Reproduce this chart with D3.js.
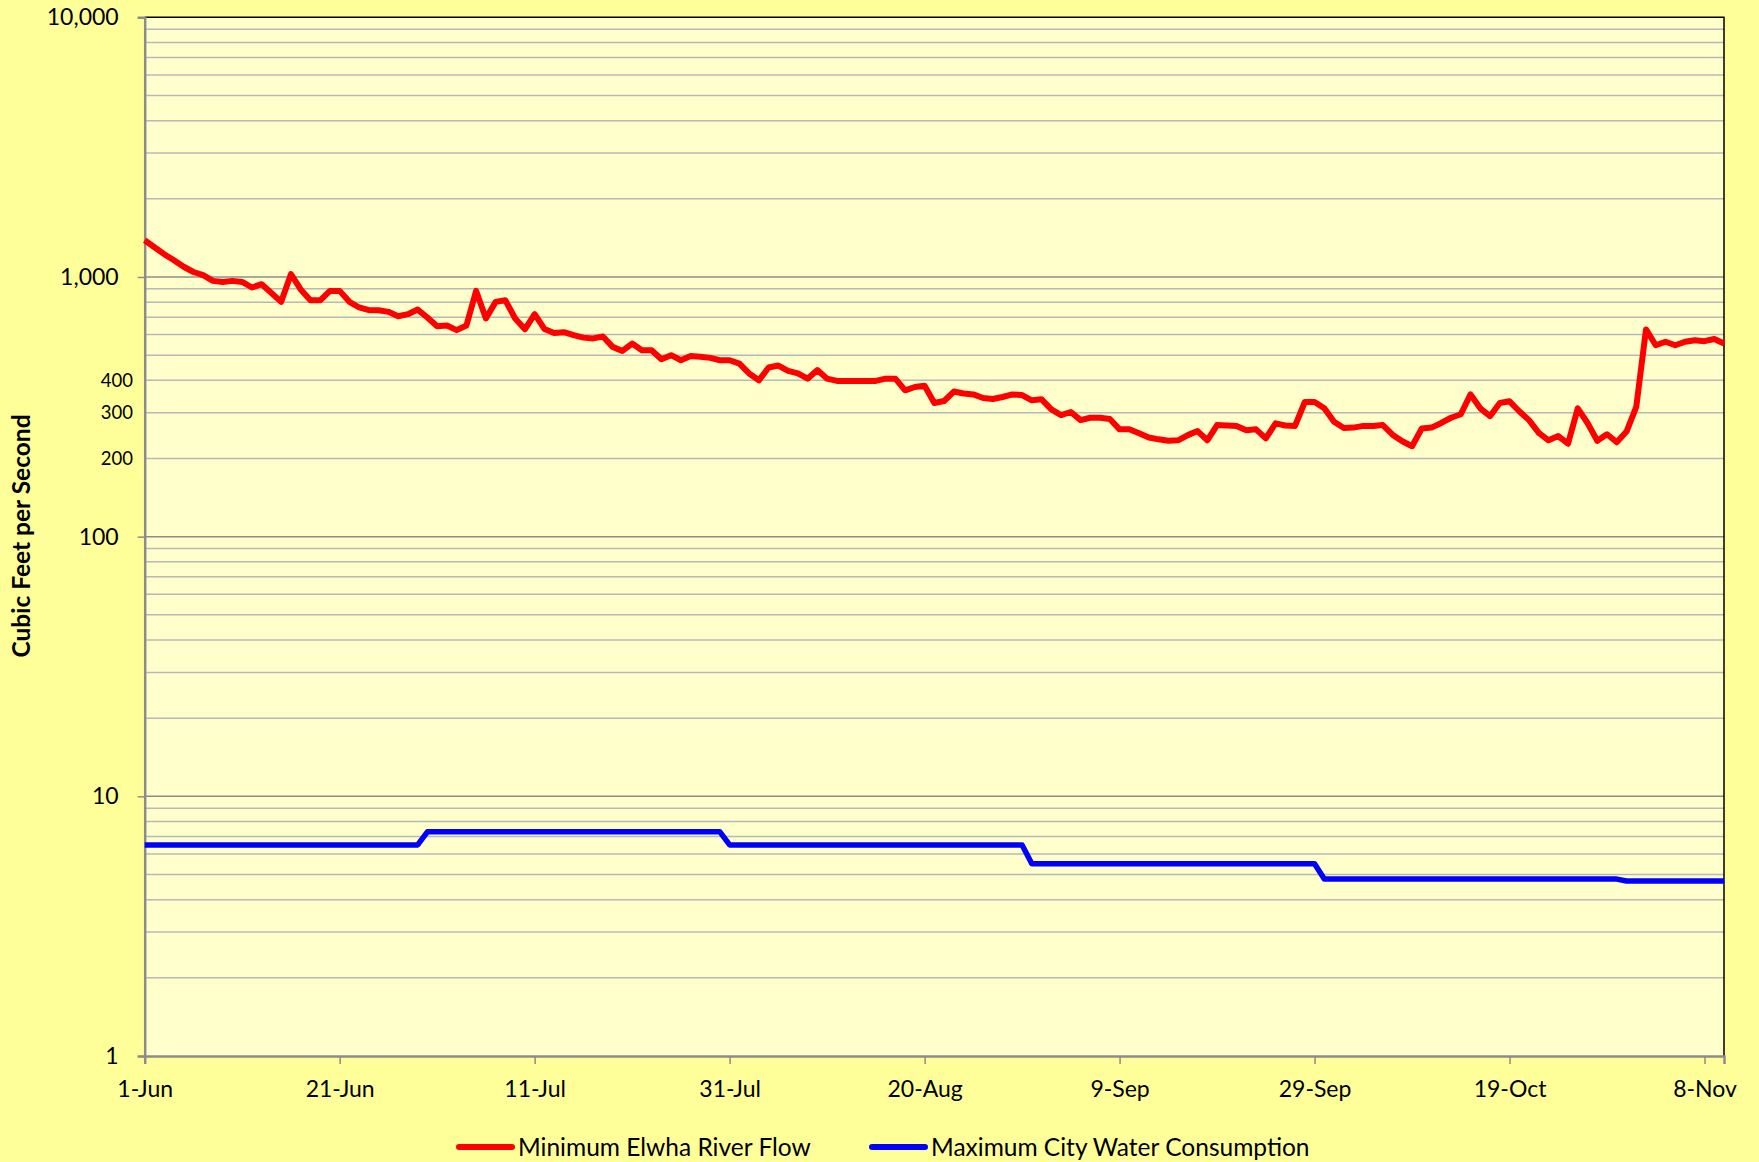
<!DOCTYPE html>
<head>
  <meta charset="UTF-8">
  <title>Elwha flow</title>
  <style>
  body{
    margin: 0;
    background: #ffff99;
  }
  text{
    font-family: Lato, "Open Sans", sans-serif;
    fill: #000;
  }
  </style>
</head>
<body>
  <script src="https://cdn.jsdelivr.net/npm/d3@7"></script>
  <script type="text/javascript">
  // daily minimum river flow, cfs, from 1-Jun to 10-Nov
  var startDate = new Date(2015, 5, 1);
  var flowValues = [
    1385, 1302, 1224, 1160, 1095, 1045, 1016, 966, 957, 966,
    957, 911, 938, 868, 802, 1025, 895, 813, 813, 884,
    884, 802, 763, 745, 745, 734, 706, 719, 749, 698,
    646, 650, 624, 650, 884, 692, 802, 813, 692, 629,
    719, 631, 609, 613, 597, 584, 580, 590, 538, 519,
    554, 522, 522, 482, 500, 478, 496, 493, 488, 478,
    478, 464, 425, 400, 448, 456, 435, 425, 406, 438,
    406, 398, 398, 398, 398, 398, 406, 406, 366, 377,
    381, 327, 333, 362, 356, 353, 342, 339, 345, 353,
    351, 335, 338, 309, 294, 302, 281, 287, 287, 284,
    259, 259, 250, 241, 237, 234, 235, 246, 255, 235,
    269, 268, 267, 257, 259, 239, 273, 268, 267, 330,
    330, 312, 277, 262, 263, 267, 267, 269, 247, 233,
    223, 261, 263, 274, 287, 296, 353, 312, 291, 327,
    332, 304, 281, 251, 235, 244, 228, 312, 274, 234,
    248, 231, 254, 316, 628, 546, 563, 546, 563, 571,
    566, 577, 554
  ];
  // city consumption, only the days where the level changes
  var useDays = [0, 28, 29, 59, 60, 90, 91, 120, 121, 151, 152, 162];
  var useValues = [6.5, 6.5, 7.3, 7.3, 6.5, 6.5, 5.5, 5.5, 4.8, 4.8, 4.72, 4.72];

  var majorTicks = [1, 10, 100, 1000, 10000];
  var minorLabels = [200, 300, 400];
  var seriesNames = ['Minimum Elwha River Flow', 'Maximum City Water Consumption'];
  var seriesColors = ['#ff0000', '#0000ff'];

  var W = 1759, H = 1162;
  var pLeft = 144.7, pRight = 1724, pTop = 17.3, pBottom = 1056;

  var svg = d3.select('body').append('svg')
    .attr('width', W)
    .attr('height', H);

  var endDate = d3.timeDay.offset(startDate, flowValues.length - 1);
  var x = d3.scaleTime().domain([startDate, endDate]).range([pLeft, pRight]);
  var y = d3.scaleLog().domain([1, 10000]).range([pBottom, pTop]);

  // plot background
  svg.append('rect')
    .attr('x', pLeft).attr('y', pTop)
    .attr('width', pRight - pLeft).attr('height', pBottom - pTop)
    .attr('fill', '#ffffcc');

  // gridlines, 2..9 in every decade lighter, decades darker
  var minor = [];
  for (var p = 0; p < 4; p++) {
    for (var k = 2; k <= 9; k++) minor.push(k * Math.pow(10, p));
  }
  svg.selectAll('.minor').data(minor).enter().append('line')
    .attr('x1', pLeft).attr('x2', pRight)
    .attr('y1', function(d){ return y(d); })
    .attr('y2', function(d){ return y(d); })
    .attr('stroke', '#b8b8b8').attr('stroke-width', 1.5);
  svg.selectAll('.major').data(majorTicks.slice(1, 4)).enter().append('line')
    .attr('x1', pLeft).attr('x2', pRight)
    .attr('y1', function(d){ return y(d); })
    .attr('y2', function(d){ return y(d); })
    .attr('stroke', '#8c8c8c').attr('stroke-width', 1.5);

  // frame: top and right black
  svg.append('path')
    .attr('d', 'M' + pLeft + ',' + pTop + 'H' + pRight + 'V' + pBottom)
    .attr('fill', 'none').attr('stroke', '#000').attr('stroke-width', 1.5);

  // y axis
  var yAxis = d3.axisLeft(y)
    .tickValues(majorTicks)
    .tickFormat(d3.format(','))
    .tickSize(7).tickPadding(19);
  var gy = svg.append('g').attr('transform', 'translate(' + pLeft + ',0)').call(yAxis);
  gy.select('.domain').attr('stroke', '#8c8c8c').attr('stroke-width', 2.5);
  gy.selectAll('.tick line').attr('stroke', '#8c8c8c').attr('stroke-width', 1.5);
  gy.selectAll('.tick text').attr('font-size', 23).attr('font-family', 'Lato').attr('fill', '#000');

  svg.selectAll('.minorlab').data(minorLabels).enter().append('text')
    .attr('x', 133).attr('y', function(d){ return y(d); })
    .attr('dy', '0.35em')
    .attr('text-anchor', 'end')
    .attr('font-size', 18.5)
    .text(function(d){ return d; });

  // x axis, every 20 days
  var xTicks = d3.range(0, flowValues.length, 20).map(function(i){ return d3.timeDay.offset(startDate, i); });
  var xAxis = d3.axisBottom(x)
    .tickValues(xTicks)
    .tickFormat(d3.timeFormat('%-d-%b'))
    .tickSize(8).tickPadding(17);
  var gx = svg.append('g').attr('transform', 'translate(0,' + pBottom + ')').call(xAxis);
  gx.select('.domain').attr('stroke', '#8c8c8c').attr('stroke-width', 2.5);
  gx.selectAll('.tick line').attr('stroke', '#8c8c8c').attr('stroke-width', 1.5);
  gx.selectAll('.tick text').attr('font-size', 23).attr('font-family', 'Lato').attr('fill', '#000');

  // y title
  svg.append('text')
    .attr('transform', 'translate(30,536) rotate(-90)')
    .attr('text-anchor', 'middle')
    .attr('font-size', 24.5)
    .attr('font-weight', 'bold')
    .text('Cubic Feet per Second');

  // lines
  var flowLine = d3.line()
    .x(function(d, i){ return x(d3.timeDay.offset(startDate, i)); })
    .y(function(d){ return y(d); });
  svg.append('path')
    .datum(flowValues)
    .attr('d', flowLine)
    .attr('fill', 'none')
    .attr('stroke', seriesColors[0])
    .attr('stroke-width', 6)
    .attr('stroke-linejoin', 'round');

  var useLine = d3.line()
    .x(function(d, i){ return x(d3.timeDay.offset(startDate, useDays[i])); })
    .y(function(d){ return y(d); });
  svg.append('path')
    .datum(useValues)
    .attr('d', useLine)
    .attr('fill', 'none')
    .attr('stroke', seriesColors[1])
    .attr('stroke-width', 5.5)
    .attr('stroke-linejoin', 'round');

  // legend
  var legX = [459, 872];
  var legY = 1147;
  var leg = svg.selectAll('.leg').data(seriesNames).enter().append('g')
    .attr('transform', function(d, i){ return 'translate(' + legX[i] + ',' + legY + ')'; });
  leg.append('line')
    .attr('x1', 0).attr('x2', 53)
    .attr('stroke', function(d, i){ return seriesColors[i]; })
    .attr('stroke-width', 6)
    .attr('stroke-linecap', 'round');
  leg.append('text')
    .attr('x', 59).attr('dy', '0.35em')
    .attr('font-size', 24.5)
    .text(function(d){ return d; });
  </script>
</body>
</html>
